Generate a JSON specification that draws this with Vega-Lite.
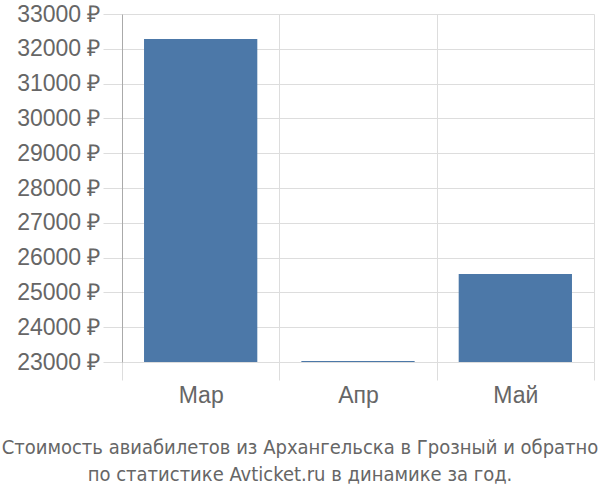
{
  "$schema": "https://vega.github.io/schema/vega-lite/v6.json",
  "autosize": "none",
  "width": 472,
  "height": 348,
  "padding": {"left": 122, "top": 14, "right": 6, "bottom": 138},
  "background": "white",
  "view": {"stroke": null},
  "title": {
    "text": ["Стоимость авиабилетов из Архангельска в Грозный и обратно", "по статистике Avticket.ru в динамике за год."],
    "orient": "bottom",
    "anchor": "middle",
    "dx": -58,
    "offset": 31,
    "font": "DejaVu Sans Condensed, Liberation Sans",
    "fontSize": 20,
    "fontWeight": "normal",
    "color": "#666666",
    "lineHeight": 27
  },
  "data": {
    "values": [
      {"month": "Мар", "price": 32280},
      {"month": "Апр", "price": 23030},
      {"month": "Май", "price": 25530}
    ]
  },
  "mark": {"type": "bar", "color": "#4c78a8", "width": {"band": 0.72}},
  "encoding": {
    "x": {
      "field": "month",
      "type": "nominal",
      "sort": null,
      "scale": {"paddingInner": 0, "paddingOuter": 0},
      "axis": {
        "title": null,
        "tickBand": "extent",
        "grid": true,
        "gridColor": "#dddddd",
        "domain": false,
        "tickSize": 18,
        "tickColor": "#dddddd",
        "labelAngle": 0,
        "labelFont": "Liberation Sans",
        "labelFontSize": 23,
        "labelColor": "#666666",
        "labelPadding": 4
      }
    },
    "y": {
      "field": "price",
      "type": "quantitative",
      "scale": {"domain": [23000, 33000], "nice": false, "zero": false},
      "axis": {
        "title": null,
        "values": [23000, 24000, 25000, 26000, 27000, 28000, 29000, 30000, 31000, 32000, 33000],
        "labelExpr": "datum.value + ' ₽'",
        "grid": true,
        "gridColor": "#dddddd",
        "domain": true,
        "domainColor": "#aaaaaa",
        "tickSize": 19,
        "tickColor": "#dddddd",
        "labelFont": "Liberation Sans",
        "labelFontSize": 23,
        "labelColor": "#666666",
        "labelPadding": 3
      }
    },
    "y2": {"datum": 23000}
  }
}
